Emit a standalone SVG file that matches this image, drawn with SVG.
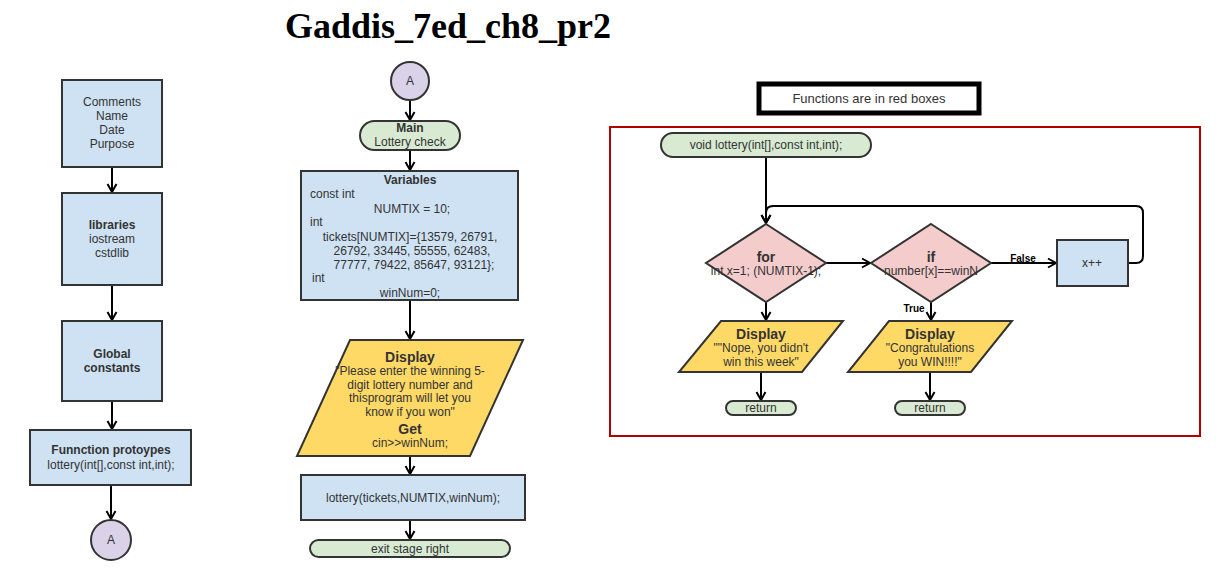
<svg xmlns="http://www.w3.org/2000/svg" width="1220" height="580" viewBox="0 0 1220 580">
<defs>
<marker id="ah" markerWidth="12" markerHeight="12" refX="9" refY="6" orient="auto" markerUnits="userSpaceOnUse">
<path d="M1,1.5 L9,6 L1,10.5" fill="none" stroke="#000" stroke-width="2"/>
</marker>
<style>
text{font-family:"Liberation Sans",Arial,sans-serif;font-size:12px;fill:#333;text-anchor:middle}
.b{font-weight:bold}
.l{text-anchor:start}
.proc{fill:#cfe2f3;stroke:#333;stroke-width:2}
.term{fill:#d9ead3;stroke:#333;stroke-width:2}
.io{fill:#ffd966;stroke:#333;stroke-width:2}
.dec{fill:#f4cccc;stroke:#333;stroke-width:2}
.conn{fill:#d9d2e9;stroke:#333;stroke-width:2}
.e{fill:none;stroke:#000;stroke-width:2;marker-end:url(#ah)}
</style>
</defs>
<rect width="1220" height="580" fill="#fff"/>
<text x="448" y="38" style="font-family:'Liberation Serif',serif;font-size:36px;font-weight:bold;fill:#000">Gaddis_7ed_ch8_pr2</text>

<g id="connectors">
<path class="e" d="M112,167 V192"/>
<path class="e" d="M112,285 V320"/>
<path class="e" d="M112,401 V429"/>
<path class="e" d="M111,485 V519"/>
<path class="e" d="M410,100 V120"/>
<path class="e" d="M410,150 V170"/>
<path class="e" d="M410,300 V339"/>
<path class="e" d="M410,456 V474"/>
<path class="e" d="M410,520 V539"/>
<path class="e" d="M766,157 V223"/>
<path class="e" d="M1128,263 H1136 Q1143,263 1143,256 V213 Q1143,206 1136,206 H773 Q766,206 766,213 V223"/>
<path class="e" d="M826,263 H870"/>
<path class="e" d="M991,263 H1056"/>
<path class="e" d="M931,302 V320"/>
<path class="e" d="M766,302 V320"/>
<path class="e" d="M761,372 V400"/>
<path class="e" d="M930,372 V400"/>
<text x="1023" y="262" class="b" style="font-size:10px;fill:#000">False</text>
<text x="914" y="312" class="b" style="font-size:10px;fill:#000">True</text>
</g>

<g id="comments"><rect class="proc" x="62" y="80" width="100" height="87"/>
<text x="112" y="106">Comments</text><text x="112" y="120">Name</text><text x="112" y="134">Date</text><text x="112" y="148">Purpose</text></g>
<g id="libraries"><rect class="proc" x="62" y="193" width="100" height="92"/>
<text x="112" y="229" class="b">libraries</text><text x="112" y="243">iostream</text><text x="112" y="257">cstdlib</text></g>
<g id="globals"><rect class="proc" x="62" y="321" width="100" height="80"/>
<text x="112" y="358" class="b">Global</text><text x="112" y="372" class="b">constants</text></g>
<g id="protos"><rect class="proc" x="30" y="430" width="161" height="55"/>
<text x="111" y="454" class="b">Funnction protoypes</text><text x="111" y="469">lottery(int[],const int,int);</text></g>
<g id="connA1"><circle class="conn" cx="111" cy="540" r="20"/><text x="111" y="544">A</text></g>

<g id="connA2"><circle class="conn" cx="410" cy="81" r="19"/><text x="410" y="85">A</text></g>
<g id="main"><rect class="term" x="360" y="121" width="100" height="29" rx="14.5"/>
<text x="410" y="132" class="b">Main</text><text x="410" y="146">Lottery check</text></g>
<g id="variables"><rect class="proc" x="301" y="171" width="217" height="129"/>
<text x="410" y="184" class="b">Variables</text>
<text x="310" y="198" class="l">const int</text>
<text x="412" y="213">NUMTIX = 10;</text>
<text x="310" y="226" class="l">int</text>
<text x="410" y="241">tickets[NUMTIX]={13579, 26791,</text>
<text x="412" y="255">26792, 33445, 55555, 62483,</text>
<text x="414" y="269">77777, 79422, 85647, 93121};</text>
<text x="312" y="282" class="l">int</text>
<text x="410" y="297">winNum=0;</text></g>
<g id="display1"><polygon class="io" points="350,340 523,340 470,456 297,456"/>
<text x="410" y="362" class="b" style="font-size:14px">Display</text>
<text x="410" y="375">"Please enter the winning 5-</text>
<text x="410" y="389">digit lottery number and</text>
<text x="410" y="402">thisprogram will let you</text>
<text x="410" y="416">know if you won"</text>
<text x="410" y="434" class="b" style="font-size:14px">Get</text>
<text x="410" y="447">cin&gt;&gt;winNum;</text></g>
<g id="call"><rect class="proc" x="301" y="475" width="224" height="45"/>
<text x="413" y="502">lottery(tickets,NUMTIX,winNum);</text></g>
<g id="exit"><rect class="term" x="310" y="540" width="200" height="17" rx="8.5"/>
<text x="410" y="553">exit stage right</text></g>

<g id="legend"><rect x="759" y="84" width="220" height="29" fill="#fff" stroke="#000" stroke-width="5"/>
<text x="869" y="103" style="font-size:13px">Functions are in red boxes</text></g>
<g id="funcbox"><rect x="610" y="127" width="590" height="309" fill="none" stroke="#b20000" stroke-width="2"/></g>
<g id="fstart"><rect class="term" x="661" y="133" width="210" height="24" rx="12"/>
<text x="766" y="149">void lottery(int[],const int,int);</text></g>
<g id="for"><polygon class="dec" points="766,224 826,263 766,302 706,263"/>
<text x="766" y="262" class="b" style="font-size:14px">for</text>
<text x="766" y="275">int x=1; (NUMTIX-1);</text></g>
<g id="if"><polygon class="dec" points="931,224 991,263 931,302 871,263"/>
<text x="931" y="262" class="b" style="font-size:14px">if</text>
<text x="931" y="275">number[x]==winN</text></g>
<g id="inc"><rect class="proc" x="1057" y="240" width="71" height="46"/>
<text x="1092" y="267">x++</text></g>
<g id="nope"><polygon class="io" points="721,321 843,321 802,372 679,372"/>
<text x="761" y="339" class="b" style="font-size:14px">Display</text>
<text x="761" y="352">""Nope, you didn't</text>
<text x="761" y="366">win this week"</text></g>
<g id="win"><polygon class="io" points="889,321 1012,321 971,372 848,372"/>
<text x="930" y="339" class="b" style="font-size:14px">Display</text>
<text x="930" y="352">"Congratulations</text>
<text x="930" y="366">you WIN!!!!"</text></g>
<g id="ret1"><rect class="term" x="726" y="401" width="70" height="14" rx="7"/>
<text x="761" y="412">return</text></g>
<g id="ret2"><rect class="term" x="895" y="401" width="70" height="14" rx="7"/>
<text x="930" y="412">return</text></g>
</svg>
